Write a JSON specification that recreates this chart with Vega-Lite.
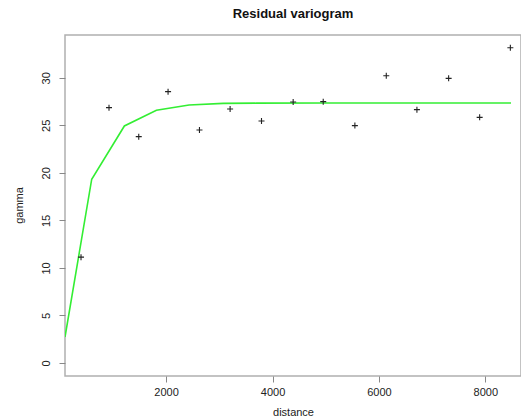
{
  "$schema": "https://vega.github.io/schema/vega-lite/v6.json",
  "width": 456,
  "height": 341,
  "autosize": {"type": "none"},
  "padding": {"left": 65, "top": 35, "right": 0, "bottom": 42},
  "background": "white",
  "config": {
    "font": "Liberation Sans",
    "view": {"stroke": "#b0b0b0", "strokeWidth": 1.5},
    "axis": {"grid": false, "domain": false, "tickColor": "#888888", "tickSize": 6, "labelFont": "Liberation Sans", "labelFontSize": 11, "labelColor": "#222222", "titleFont": "Liberation Sans", "titleFontSize": 11, "titleFontWeight": "normal", "titleColor": "#222222"}
  },
  "title": {"text": "Residual variogram", "font": "Liberation Sans", "fontSize": 13, "fontWeight": "bold", "color": "#111111", "anchor": "middle", "offset": 14},
  "datasets": {
    "points": [
      {"distance": 401, "gamma": 11.13},
      {"distance": 927, "gamma": 26.86},
      {"distance": 1486, "gamma": 23.81},
      {"distance": 2037, "gamma": 28.54},
      {"distance": 2627, "gamma": 24.51},
      {"distance": 3203, "gamma": 26.71},
      {"distance": 3793, "gamma": 25.45},
      {"distance": 4388, "gamma": 27.45},
      {"distance": 4953, "gamma": 27.49},
      {"distance": 5548, "gamma": 24.97},
      {"distance": 6138, "gamma": 30.22},
      {"distance": 6714, "gamma": 26.65},
      {"distance": 7310, "gamma": 29.94},
      {"distance": 7893, "gamma": 25.84},
      {"distance": 8470, "gamma": 33.16}
    ],
    "model": [
      {"distance": 100, "gamma": 2.73},
      {"distance": 602, "gamma": 19.33},
      {"distance": 1216, "gamma": 24.93},
      {"distance": 1818, "gamma": 26.58},
      {"distance": 2432, "gamma": 27.13},
      {"distance": 3072, "gamma": 27.31},
      {"distance": 3700, "gamma": 27.33},
      {"distance": 5000, "gamma": 27.34},
      {"distance": 6500, "gamma": 27.34},
      {"distance": 8482, "gamma": 27.34}
    ]
  },
  "layer": [
    {
      "data": {"name": "model"},
      "mark": {"type": "line", "color": "#33ee33", "strokeWidth": 1.6, "clip": true},
      "encoding": {
        "x": {"field": "distance", "type": "quantitative", "scale": {"domain": [100, 8670], "nice": false, "zero": false},
          "axis": {"values": [2000, 4000, 6000, 8000], "format": "d", "title": "distance", "labelPadding": 4, "titleY": 36, "titleBaseline": "middle"}},
        "y": {"field": "gamma", "type": "quantitative", "scale": {"domain": [-1.37, 34.5], "nice": false, "zero": false},
          "axis": {"values": [0, 5, 10, 15, 20, 25, 30], "title": "gamma", "labelAngle": -90, "labelAlign": "center", "labelBaseline": "bottom", "labelPadding": 8, "titleX": -46, "titleY": 170, "titleAngle": -90, "titleAlign": "center", "titleBaseline": "middle"}}
      }
    },
    {
      "data": {"name": "points"},
      "mark": {"type": "point", "shape": "M-1,0H1M0,-1V1", "filled": false, "stroke": "#222222", "strokeWidth": 1.1, "size": 36, "opacity": 1},
      "encoding": {
        "x": {"field": "distance", "type": "quantitative"},
        "y": {"field": "gamma", "type": "quantitative"}
      }
    }
  ]
}
